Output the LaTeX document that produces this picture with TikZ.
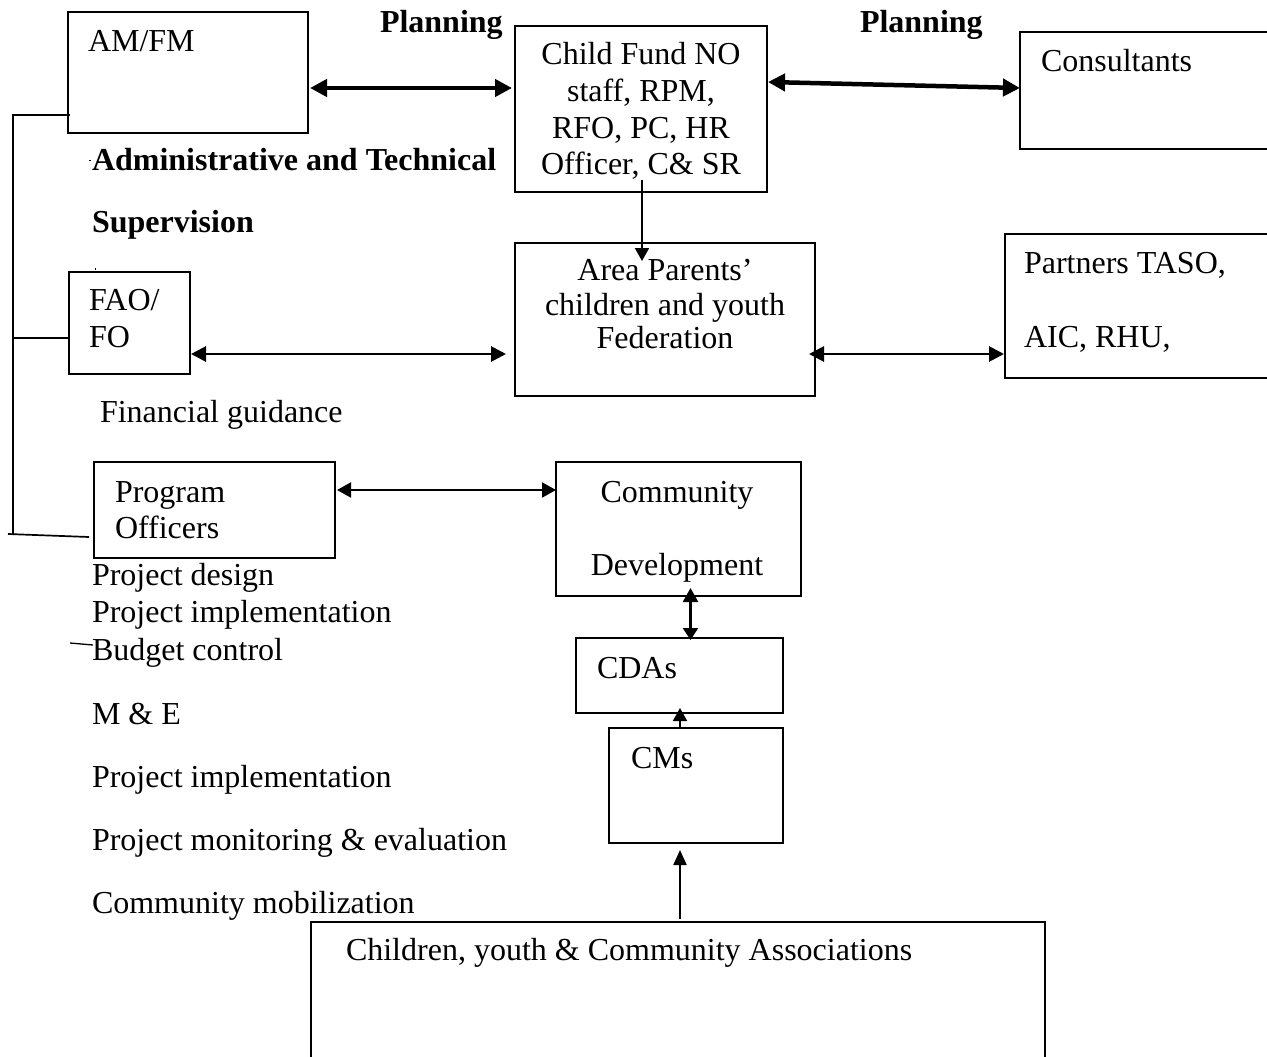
\documentclass[tikz,border=0pt]{standalone}
\usepackage{fontspec}
\setmainfont{Liberation Serif}
\usetikzlibrary{arrows.meta,calc}
\tikzset{
  box/.style={draw, line width=1.8pt, rectangle, anchor=north west, inner sep=0pt, outer sep=0pt},
  txt/.style={anchor=base west, inner sep=0pt, outer sep=0pt, font=\fontsize{32}{36}\selectfont},
  ctxt/.style={anchor=base, inner sep=0pt, outer sep=0pt, font=\fontsize{32}{36}\selectfont},
  btxt/.style={anchor=base west, inner sep=0pt, outer sep=0pt, font=\fontsize{32}{36}\selectfont\bfseries},
  conn/.style={line width=1.7pt},
  bigarrow/.style={line width=4.5pt, {Triangle[length=17pt,width=17pt]}-{Triangle[length=17pt,width=17pt]}},
  midarrow/.style={line width=2.8pt, {Triangle[length=15pt,width=15pt]}-{Triangle[length=15pt,width=15pt]}},
  smallarrow/.style={line width=2pt, {Triangle[length=14pt,width=15pt]}-{Triangle[length=14pt,width=15pt]}},
  onearrow/.style={line width=2pt, -{Triangle[length=13pt,width=14pt]}},
}
\begin{document}
\begin{tikzpicture}[x=1pt,y=-1pt]
\path[use as bounding box, fill=white] (0,0) rectangle (1267,1057);
\clip (0,0) rectangle (1267,1057);

% boxes
\node[box, minimum width=240, minimum height=121] (am) at (68,12) {};
\node[box, minimum width=252, minimum height=166] (cf) at (515,26) {};
\node[box, minimum width=270, minimum height=117] (cons) at (1020,32) {};
\node[box, minimum width=300, minimum height=153] (area) at (515,243) {};
\node[box, minimum width=280, minimum height=144] (part) at (1005,234) {};
\node[box, minimum width=121, minimum height=102] (fao) at (69,272) {};
\node[box, minimum width=241, minimum height=96] (prog) at (94,462) {};
\node[box, minimum width=245, minimum height=134] (comm) at (556,462) {};
\node[box, minimum width=207, minimum height=75] (cdas) at (576,638) {};
\node[box, minimum width=174, minimum height=115] (cms) at (609,728) {};
\node[box, minimum width=734, minimum height=170] (cyca) at (311,922) {};

% box texts
\node[txt] (amt) at (88,52) {AM/FM};
\node[ctxt] (cf1) at (641,65) {Child Fund NO};
\node[ctxt] (cf2) at (641,101.5) {staff, RPM,};
\node[ctxt] (cf3) at (641,138) {RFO, PC, HR};
\node[ctxt] (cf4) at (641,174.5) {Officer, C\& SR};
\node[txt] (const) at (1041,72) {Consultants};
\node[ctxt] (ar1) at (665,280) {Area Parents’};
\node[ctxt] (ar2) at (665,315) {children and youth};
\node[ctxt] (ar3) at (665,348) {Federation};
\node[txt] (pt1) at (1024,273) {Partners TASO,};
\node[txt] (pt2) at (1024,347) {AIC, RHU,};
\node[txt] (fa1) at (89,310) {FAO/};
\node[txt] (fa2) at (89,347) {FO};
\node[txt] (pr1) at (115,502) {Program};
\node[txt] (pr2) at (115,538) {Officers};
\node[ctxt] (cm1) at (677,502) {Community};
\node[ctxt] (cm2) at (677,575) {Development};
\node[txt] (cdt) at (597,678) {CDAs};
\node[txt] (cmt) at (631,768) {CMs};
\node[txt] (cyt) at (346,960) {Children, youth \& Community Associations};

% free labels
\node[btxt] (plan1) at (380,33) {Planning};
\node[btxt] (plan2) at (860,33) {Planning};
\node[btxt] (admin) at (92,170) {Administrative and Technical};
\node[btxt] (superv) at (92,232) {Supervision};
\node[txt] (fin) at (100,422) {Financial guidance};
\node[txt] (l1) at (92,585) {Project design};
\node[txt] (l2) at (92,622) {Project implementation};
\node[txt] (budget) at (92,660) {Budget control};
\node[txt] (l4) at (92,724) {M \& E};
\node[txt] (l5) at (92,787) {Project implementation};
\node[txt] (l6) at (92,850) {Project monitoring \& evaluation};
\node[txt] (l7) at (92,913) {Community mobilization};

% arrows
\draw[bigarrow] ($(am.north east)+(2,76)$) -- ($(cf.north west)+(-3,62)$);
\draw[bigarrow] ($(cf.north east)+(1,56)$) -- ($(cons.north west)+(0,56)$);
\draw[onearrow] ($(cf.south)+(1,-12)$) -- ($(area.north)+(-23,18)$);
\draw[midarrow] ($(fao.north east)+(1,82)$) -- ($(area.north west)+(-9,111)$);
\draw[midarrow] ($(area.north east)+(-6,111)$) -- ($(part.north west)+(-1,120)$);
\draw[smallarrow] ($(prog.north east)+(2,28)$) -- ($(comm.north west)+(0,28)$);
\draw[line width=2.4pt, {Triangle[length=14pt,width=15pt]}-{Triangle[length=12pt,width=15pt]}] ($(comm.south)+(12,-8)$) -- ($(cdas.north)+(11,2)$);
\draw[onearrow] ($(cms.north)+(-16,0)$) -- ($(cdas.south)+(0.5,-5)$);
\draw[line width=2.2pt, -{Triangle[length=15pt,width=13pt]}] ($(cyca.north)+(2,-3)$) -- ($(cms.south)+(-16,7)$);

% left connector lines
\coordinate (spinetop) at (13,115);
\coordinate (spinebot) at (13,535);
\coordinate (botleft) at (8,534);
\coordinate (budtick) at (70,643);
\draw[conn] ($(am.south west)+(2,-18)$) -- (spinetop) -- (spinebot);
\draw[conn] ($(fao.south west)+(0,-36)$) -- +(-56,0);
\draw[conn] (botleft) -- ($(prog.south west)+(-5,-21)$);
\draw[line width=1.3pt] (budtick) -- ($(budget.base west)+(1,-15)$);
\draw[line width=1pt] ($(admin.base west)+(-3,-10)$) -- +(2,0);
\draw[line width=1pt] ($(fao.north west)+(26,-4)$) -- +(0,2);
\end{tikzpicture}
\end{document}
